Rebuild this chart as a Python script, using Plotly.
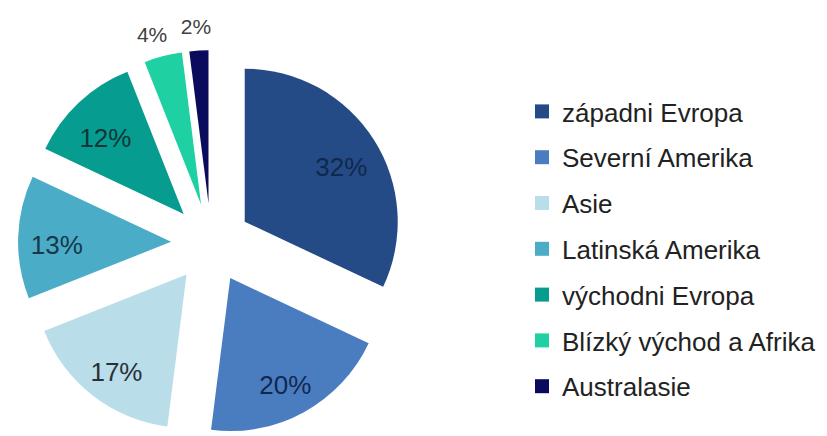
import plotly.graph_objects as go

labels = ["západni Evropa", "Severní Amerika", "Asie", "Latinská Amerika",
          "východni Evropa", "Blízký východ a Afrika", "Australasie"]
values = [32, 20, 17, 13, 12, 4, 2]
colors = ["#244B85", "#4A7DC0", "#B9DDE9", "#4BACC8", "#069C90", "#1FD1A2", "#0B0B5E"]
inside_pos = ["inside", "inside", "inside", "inside", "inside", "none", "none"]
pos_4 = ["none", "none", "none", "none", "none", "outside", "none"]
pos_2 = ["none", "none", "none", "none", "none", "none", "outside"]
text_colors = ["#10284F", "#10284F", "#2A3038", "#163848", "#10363A", "#444444", "#444444"]

W, H = 827, 436
R = 153
PULL = 0.261
CX = 211
box = 2 * R * (1 + PULL)
FONT = "Liberation Sans, Arial, sans-serif"
CLEAR = ["rgba(0,0,0,0)"] * len(values)


def dom(dx=0, dy=0, shrink=0):
    b = box - shrink
    return dict(x=[(CX - b / 2 + dx) / W, (CX + b / 2 + dx) / W],
                y=[dy / H, (b + dy) / H])


common = dict(labels=labels, values=values, sort=False, direction="clockwise",
              rotation=0, pull=PULL, showlegend=False, hoverinfo="skip",
              texttemplate="%{value}%")

fig = go.Figure()
# coloured slices
fig.add_trace(go.Pie(**common, marker=dict(colors=colors, line=dict(width=0)),
                     textposition="none", domain=dom()))
# inside percentage labels (ring geometry places them further out in each slice)
fig.add_trace(go.Pie(**common, marker=dict(colors=CLEAR, line=dict(width=0)), hole=0.57,
                     textposition=inside_pos, insidetextorientation="horizontal",
                     insidetextfont=dict(family=FONT, size=26, color=text_colors),
                     domain=dom(shrink=14)))
# outside labels of the two small slices
fig.add_trace(go.Pie(**common, marker=dict(colors=CLEAR, line=dict(width=0)),
                     textposition=pos_4,
                     outsidetextfont=dict(family=FONT, size=21, color="#404040"),
                     domain=dom(10, 11)))
fig.add_trace(go.Pie(**common, marker=dict(colors=CLEAR, line=dict(width=0)),
                     textposition=pos_2,
                     outsidetextfont=dict(family=FONT, size=21, color="#404040"),
                     domain=dom(18, 13)))

for lab, col in zip(labels, colors):
    fig.add_trace(go.Scatter(
        x=[None], y=[None], mode="markers", name=lab, legendgroup=lab,
        marker=dict(symbol="square", size=14, color=col),
        hoverinfo="skip",
    ))

fig.update_layout(
    width=W, height=H, margin=dict(l=0, r=0, t=0, b=0, autoexpand=False),
    paper_bgcolor="white", plot_bgcolor="white",
    xaxis=dict(visible=False), yaxis=dict(visible=False),
    legend=dict(x=522 / W, xanchor="left", y=1 - 88 / H, yanchor="top",
                font=dict(family=FONT, size=26, color="#222222"),
                tracegroupgap=9, traceorder="grouped", bgcolor="rgba(0,0,0,0)"),
    font=dict(family=FONT),
)

fig.write_html("out.html")
